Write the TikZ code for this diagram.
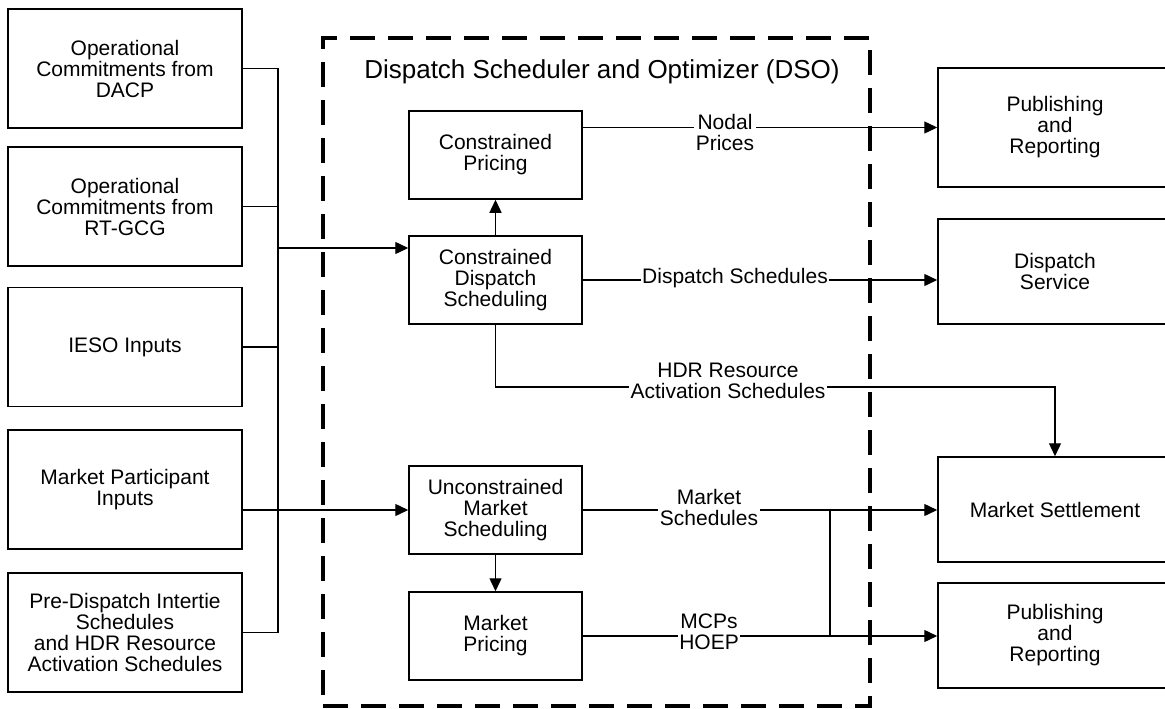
\documentclass[tikz,border=0pt]{standalone}
\usepackage{fontspec}
\setmainfont{Liberation Sans}
\usetikzlibrary{arrows.meta,calc}
\begin{document}
\begin{tikzpicture}[x=1pt,y=-1pt,
  txt/.style={font=\fontsize{21pt}{21pt}\selectfont},
  box/.style={txt, draw, line width=1.5pt, align=center, inner sep=0pt},
  lbox/.style={box, minimum width=234pt, minimum height=119pt},
  rbox/.style={box, minimum width=234pt, minimum height=105pt},
  ibox/.style={box, minimum width=173pt, minimum height=88pt},
  conn/.style={line width=1.4pt},
  arr/.style={conn, -{Triangle[length=13pt,width=12pt]}},
  lbl/.style={txt, fill=white, inner sep=1.5pt, align=center},
  dsostyle/.style={draw, line width=3.5pt, dash pattern=on 25pt off 13pt, minimum width=547pt, minimum height=668pt, inner sep=0pt}
]
\clip (0,0) rectangle (1165,709);
% DSO dashed frame and title
\node[dsostyle] (dso) at (596.5,372) {};
\node[font=\fontsize{26pt}{28pt}\selectfont] (title) at (602,72) {Dispatch Scheduler and Optimizer (DSO)};

% left input boxes
\node[lbox] (B1) at (125,68.5) {Operational\\Commitments from\\DACP};
\node[lbox] (B2) at (125,206.5) {Operational\\Commitments from\\RT-GCG};
\node[lbox] (B3) at (125,347) {IESO Inputs};
\node[lbox] (B4) at (125,489.5) {Market Participant\\Inputs};
\node[lbox] (B5) at (125,632.5) {Pre-Dispatch Intertie\\Schedules\\and HDR Resource\\Activation Schedules};

% inner boxes
\node[ibox] (CP) at (495.5,155) {Constrained\\Pricing};
\node[ibox] (CDS) at (495.5,280) {Constrained\\Dispatch\\Scheduling};
\node[ibox] (U) at (495.5,510) {Unconstrained\\Market\\Scheduling};
\node[ibox] (MP) at (495.5,636) {Market\\Pricing};

% right boxes
\node[lbox] (P1) at (1055,127.5) {Publishing\\and\\Reporting};
\node[rbox] (DS) at (1055,271.5) {Dispatch\\Service};
\node[rbox] (MS) at (1055,509.5) {Market Settlement};
\node[rbox] (P2) at (1055,635.5) {Publishing\\and\\Reporting};

% input bus
\coordinate (bt) at (278,68.5);
\coordinate (bb) at (278,632.5);
\coordinate (cdsin) at ([yshift=32pt]CDS.west);
\draw[conn] (B1.east) -- (bt) -- (bb) -- (B5.east);
\draw[conn] (B2.east) -- (B2.east -| bt);
\draw[conn] (B3.east) -- (B3.east -| bt);
\draw[arr] (bt |- cdsin) -- (cdsin);
\draw[arr] (B4.east |- U.west) -- (U.west);

% internal arrows
\draw[arr] (CDS.north) -- (CP.south);
\draw[arr] (U.south) -- (MP.north);

% outputs
\draw[arr] (CP.east |- P1.west) -- (P1.west);
\draw[arr] (CDS.east) -- (CDS.east -| DS.west);
\coordinate (hdr) at (0,387);
\draw[arr] (CDS.south) |- (hdr -| MS.north) -- (MS.north);
\draw[arr] (U.east) -- (U.east -| MS.west);
\draw[arr] (MP.east) -- (MP.east -| P2.west);
\coordinate (jx) at (830,0);
\draw[conn] (jx |- U.east) -- (jx |- MP.east);

% labels
\node[lbl] (l1) at (725,132) {Nodal\\Prices};
\node[lbl] (l2) at (735,278) {Dispatch Schedules};
\node[lbl] (l3) at (728,381) {HDR Resource\\Activation Schedules};
\node[lbl] (l4) at (709,507) {Market\\Schedules};
\node[lbl] (l5) at (709,632) {MCPs\\HOEP};
\end{tikzpicture}
\end{document}
